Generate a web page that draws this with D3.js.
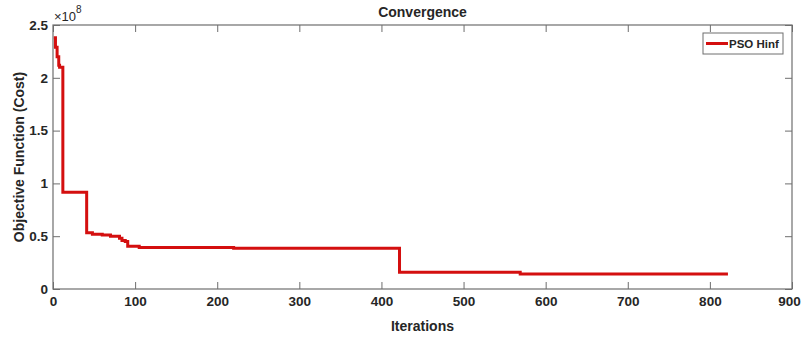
<!DOCTYPE html>
<html>
<head>
<meta charset="utf-8">
<script src="https://cdn.jsdelivr.net/npm/d3@7"></script>
<style>
  body { margin: 0; background: #fff; }
  text { font-family: "Liberation Sans", Arial, sans-serif; font-weight: bold; fill: #262626; }
</style>
</head>
<body>
<svg id="chart" width="802" height="337"></svg>
<script>
// convergence curve (cost in raw units)
var iterations = [1, 3, 5, 7, 8, 12, 41, 48, 60, 70, 81, 84, 88, 91, 105, 220, 422, 569, 822];
var costs = [2.38e8, 2.29e8, 2.20e8, 2.12e8, 2.10e8, 0.916e8, 0.533e8, 0.518e8, 0.512e8, 0.50e8,
             0.48e8, 0.46e8, 0.45e8, 0.405e8, 0.392e8, 0.385e8, 0.158e8, 0.142e8, 0.142e8];
var xTicks = [0, 100, 200, 300, 400, 500, 600, 700, 800, 900];
var yTicks = [0, 0.5e8, 1e8, 1.5e8, 2e8, 2.5e8];
var seriesName = "PSO Hinf";

var drawChart = function () {
  var svg = d3.select("#chart");
  var pLeft = 53, pRight = 792, pTop = 25, pBottom = 289;
  var tickLen = 7;
  var axisColour = "#6e6e6e";

  var x = d3.scaleLinear().domain([0, 900]).range([pLeft, pRight]);
  var y = d3.scaleLinear().domain([0, 2.5e8]).range([pBottom, pTop]);

  // box
  svg.append("rect")
    .attr("x", pLeft).attr("y", pTop)
    .attr("width", pRight - pLeft).attr("height", pBottom - pTop)
    .attr("fill", "none").attr("stroke", axisColour).attr("stroke-width", 1.2);

  // axes with inward ticks, mirrored on top and right
  var xAxis = svg.append("g")
    .attr("transform", "translate(0," + pBottom + ")")
    .call(d3.axisBottom(x).tickValues(xTicks).tickSizeInner(-tickLen).tickSizeOuter(0).tickPadding(7));
  svg.append("g")
    .attr("transform", "translate(" + pLeft + ",0)")
    .call(d3.axisLeft(y).tickValues(yTicks).tickSizeInner(-tickLen).tickSizeOuter(0).tickPadding(5)
      .tickFormat(function(d) { return d3.format("~g")(d / 1e8); }));
  svg.append("g")
    .attr("transform", "translate(0," + pTop + ")")
    .call(d3.axisTop(x).tickValues(xTicks).tickSizeInner(-tickLen).tickSizeOuter(0).tickFormat(""));
  svg.append("g")
    .attr("transform", "translate(" + pRight + ",0)")
    .call(d3.axisRight(y).tickValues(yTicks).tickSizeInner(-tickLen).tickSizeOuter(0).tickFormat(""));

  svg.selectAll(".domain").remove();
  svg.selectAll(".tick line").attr("stroke", axisColour);
  svg.selectAll(".tick text")
    .style("font-size", "13.5px")
    .style("font-family", "Liberation Sans, Arial, sans-serif")
    .style("font-weight", "bold")
    .attr("fill", "#262626");
  // last x label would touch the page edge
  xAxis.selectAll(".tick text").filter(function(d) { return d === 900; }).attr("dx", -3);

  // exponent label
  var expo = svg.append("text").attr("x", pLeft + 1).attr("y", 21).style("font-size", "13px").style("font-weight", "normal");
  expo.append("tspan").text("\u00d710");
  expo.append("tspan").attr("dy", -8).style("font-size", "10px").text("8");

  // the curve
  var line = d3.line()
    .x(function(d) { return x(d[0]); })
    .y(function(d) { return y(d[1]); })
    .curve(d3.curveStepAfter);
  var points = iterations.map(function(it, i) { return [it, costs[i]]; });
  svg.append("path")
    .datum(points)
    .attr("d", line)
    .attr("fill", "none")
    .attr("stroke", "#d40f0f")
    .attr("stroke-width", 3);

  // titles
  svg.append("text")
    .attr("x", (pLeft + pRight) / 2).attr("y", 17)
    .attr("text-anchor", "middle")
    .style("font-size", "14px")
    .text("Convergence");
  svg.append("text")
    .attr("x", (pLeft + pRight) / 2).attr("y", 331)
    .attr("text-anchor", "middle")
    .style("font-size", "14px")
    .text("Iterations");
  svg.append("text")
    .attr("transform", "translate(24," + ((pTop + pBottom) / 2) + ") rotate(-90)")
    .attr("text-anchor", "middle")
    .style("font-size", "14px")
    .text("Objective Function (Cost)");

  // legend
  var lg = svg.append("g").attr("transform", "translate(703,33)");
  lg.append("rect")
    .attr("width", 80).attr("height", 21)
    .attr("fill", "#fff").attr("stroke", axisColour).attr("stroke-width", 1);
  lg.append("line")
    .attr("x1", 3).attr("x2", 25).attr("y1", 10.5).attr("y2", 10.5)
    .attr("stroke", "#d40f0f").attr("stroke-width", 3);
  lg.append("text")
    .attr("x", 26).attr("y", 15)
    .style("font-size", "11.5px")
    .text(seriesName);
};

drawChart();
</script>
</body>
</html>
